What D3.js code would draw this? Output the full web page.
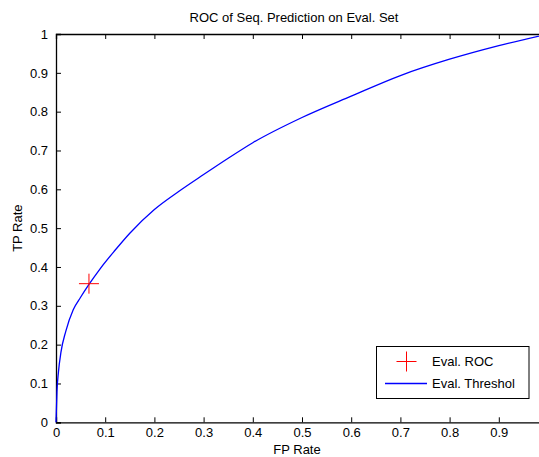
<!DOCTYPE html>
<html>
<head>
<meta charset="utf-8">
<script src="https://cdn.jsdelivr.net/npm/d3@7"></script>
<style>
  body { margin: 0; background: #fff; }
  svg text { font-family: "Liberation Sans", Arial, sans-serif; font-size: 13px; fill: #000; }
</style>
</head>
<body>
<svg id="chart" width="539" height="457"></svg>
<script>
// ROC curve points (FP rate, TP rate)
const fpRate = [0, 0.002, 0.005, 0.01, 0.02, 0.035, 0.05, 0.067, 0.09, 0.12, 0.15, 0.2,
  0.25, 0.3, 0.35, 0.4, 0.5, 0.6, 0.7, 0.8, 0.9, 1];
const tpRate = [0, 0.08, 0.13, 0.18, 0.235, 0.29, 0.322, 0.355, 0.396, 0.443, 0.487, 0.548,
  0.595, 0.638, 0.68, 0.72, 0.785, 0.84, 0.893, 0.935, 0.97, 1];
const rocPoint = [0.067, 0.357];
const xTicks = [0, 0.1, 0.2, 0.3, 0.4, 0.5, 0.6, 0.7, 0.8, 0.9];
const yTicks = [0, 0.1, 0.2, 0.3, 0.4, 0.5, 0.6, 0.7, 0.8, 0.9, 1];
const legendLabels = ["Eval. ROC", "Eval. Threshol"];

const svg = d3.select("#chart");
const axL = 56, axR = 548, axT = 34, axB = 422.3;

const x = d3.scaleLinear().domain([0, 1]).range([axL, axR]);
const y = d3.scaleLinear().domain([0, 1]).range([axB, axT]);

svg.append("text")
  .attr("x", 294).attr("y", 22)
  .attr("text-anchor", "middle")
  .attr("font-size", 13.5)
  .text("ROC of Seq. Prediction on Eval. Set");

// axes, ticks pointing inward like matlab
const fmt = d => d === 0 ? "0" : d === 1 ? "1" : d3.format(".1f")(d);
const tick = 5;

const gx = svg.append("g").attr("transform", `translate(0,${axB})`)
  .call(d3.axisBottom(x).tickValues(xTicks).tickFormat(fmt).tickSize(-tick).tickPadding(5));
const gxTop = svg.append("g").attr("transform", `translate(0,${axT})`)
  .call(d3.axisTop(x).tickValues(xTicks).tickFormat("").tickSize(-tick));
const gy = svg.append("g").attr("transform", `translate(${axL},0)`)
  .call(d3.axisLeft(y).tickValues(yTicks).tickFormat(fmt).tickSize(-tick).tickPadding(8));

[gx, gxTop, gy].forEach(g => {
  g.selectAll(".domain").attr("stroke", "#000").attr("stroke-width", 1.3);
  g.selectAll(".tick line").attr("stroke", "#000");
  g.selectAll("text").attr("font-size", 13).attr("font-family", "Liberation Sans, Arial, sans-serif");
});
gx.selectAll(".tick text").attr("dy", "0.75em");

svg.append("text")
  .attr("x", 297).attr("y", 454)
  .attr("text-anchor", "middle")
  .text("FP Rate");
svg.append("text")
  .attr("transform", `translate(22,${(axT + axB) / 2}) rotate(-90)`)
  .attr("text-anchor", "middle")
  .text("TP Rate");

const line = d3.line().curve(d3.curveMonotoneX)
  .x((d, i) => x(fpRate[i])).y(d => y(d));
svg.append("path")
  .datum(tpRate)
  .attr("d", line)
  .attr("fill", "none")
  .attr("stroke", "#0000ff")
  .attr("stroke-width", 1.3);

function cross(g, cx, cy, r) {
  g.append("path")
    .attr("d", `M${cx - r},${cy}H${cx + r}M${cx},${cy - r}V${cy + r}`)
    .attr("stroke", "#ff0000")
    .attr("stroke-width", 1);
}
cross(svg, x(rocPoint[0]), y(rocPoint[1]), 10);

// legend
const lg = svg.append("g");
lg.append("rect")
  .attr("x", 376.5).attr("y", 346.5).attr("width", 152.5).attr("height", 52)
  .attr("fill", "#fff").attr("stroke", "#000").attr("stroke-width", 1);
cross(lg, 406.5, 361.5, 10);
lg.append("line")
  .attr("x1", 385).attr("x2", 427).attr("y1", 383.5).attr("y2", 383.5)
  .attr("stroke", "#0000ff").attr("stroke-width", 1.3);
legendLabels.forEach((t, i) => {
  lg.append("text")
    .attr("x", 432).attr("y", 366 + i * 21.7)
    .text(t);
});
</script>
</body>
</html>
